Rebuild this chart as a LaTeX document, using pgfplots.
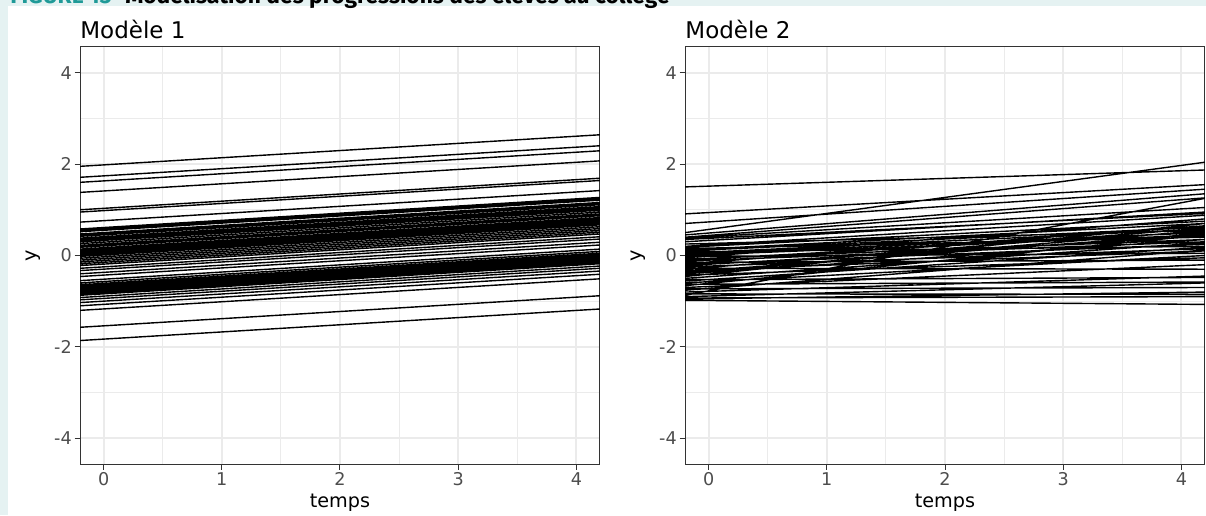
\documentclass[border=0pt]{standalone}
\usepackage{fontspec}
\setmainfont{DejaVu Sans}
\newfontfamily\capfont{Fira Sans}
\usepackage{pgfplots}
\usepackage{pgfplotstable}
\pgfplotsset{compat=1.18}

\definecolor{bgcyan}{HTML}{E5F2F2}
\definecolor{capteal}{HTML}{1F9A98}
\definecolor{gridc}{HTML}{EBEBEB}
\definecolor{borderc}{HTML}{333333}
\definecolor{tickc}{HTML}{4D4D4D}

% Modele 1 : droites paralleles (valeurs aux bords x=-0.2 et x=4.2)
\pgfplotstableread{
x y
-0.2 1.95
4.2 2.64
nan nan
-0.2 1.71
4.2 2.40
nan nan
-0.2 1.60
4.2 2.29
nan nan
-0.2 1.38
4.2 2.07
nan nan
-0.2 1.00
4.2 1.69
nan nan
-0.2 0.95
4.2 1.64
nan nan
-0.2 0.73
4.2 1.42
nan nan
-0.2 0.58
4.2 1.27
nan nan
-0.2 0.55
4.2 1.24
nan nan
-0.2 0.52
4.2 1.21
nan nan
-0.2 0.47
4.2 1.16
nan nan
-0.2 0.44
4.2 1.13
nan nan
-0.2 0.42
4.2 1.11
nan nan
-0.2 0.38
4.2 1.07
nan nan
-0.2 0.35
4.2 1.04
nan nan
-0.2 0.33
4.2 1.02
nan nan
-0.2 0.30
4.2 0.99
nan nan
-0.2 0.26
4.2 0.95
nan nan
-0.2 0.22
4.2 0.91
nan nan
-0.2 0.20
4.2 0.89
nan nan
-0.2 0.18
4.2 0.87
nan nan
-0.2 0.14
4.2 0.83
nan nan
-0.2 0.11
4.2 0.80
nan nan
-0.2 0.08
4.2 0.77
nan nan
-0.2 0.05
4.2 0.74
nan nan
-0.2 0.02
4.2 0.71
nan nan
-0.2 0.00
4.2 0.69
nan nan
-0.2 -0.02
4.2 0.67
nan nan
-0.2 -0.06
4.2 0.63
nan nan
-0.2 -0.10
4.2 0.59
nan nan
-0.2 -0.14
4.2 0.55
nan nan
-0.2 -0.18
4.2 0.51
nan nan
-0.2 -0.22
4.2 0.47
nan nan
-0.2 -0.28
4.2 0.41
nan nan
-0.2 -0.33
4.2 0.36
nan nan
-0.2 -0.40
4.2 0.29
nan nan
-0.2 -0.46
4.2 0.23
nan nan
-0.2 -0.55
4.2 0.14
nan nan
-0.2 -0.60
4.2 0.09
nan nan
-0.2 -0.64
4.2 0.05
nan nan
-0.2 -0.66
4.2 0.03
nan nan
-0.2 -0.68
4.2 0.01
nan nan
-0.2 -0.71
4.2 -0.02
nan nan
-0.2 -0.72
4.2 -0.03
nan nan
-0.2 -0.74
4.2 -0.05
nan nan
-0.2 -0.77
4.2 -0.08
nan nan
-0.2 -0.78
4.2 -0.09
nan nan
-0.2 -0.80
4.2 -0.11
nan nan
-0.2 -0.83
4.2 -0.14
nan nan
-0.2 -0.85
4.2 -0.16
nan nan
-0.2 -0.87
4.2 -0.18
nan nan
-0.2 -0.92
4.2 -0.23
nan nan
-0.2 -0.97
4.2 -0.28
nan nan
-0.2 -1.03
4.2 -0.34
nan nan
-0.2 -1.10
4.2 -0.41
nan nan
-0.2 -1.20
4.2 -0.51
nan nan
-0.2 -1.57
4.2 -0.88
nan nan
-0.2 -1.86
4.2 -1.17
}\modelone

% Modele 2 : pentes aleatoires
\pgfplotstableread{
x y
-0.2 1.50
4.2 1.87
nan nan
-0.2 0.91
4.2 1.55
nan nan
-0.2 0.70
4.2 1.45
nan nan
-0.2 0.50
4.2 2.04
nan nan
-0.2 0.45
4.2 1.35
nan nan
-0.2 0.40
4.2 1.26
nan nan
-0.2 0.38
4.2 1.05
nan nan
-0.2 0.35
4.2 0.92
nan nan
-0.2 0.30
4.2 0.95
nan nan
-0.2 0.25
4.2 0.55
nan nan
-0.2 0.20
4.2 0.88
nan nan
-0.2 0.18
4.2 0.75
nan nan
-0.2 0.15
4.2 0.40
nan nan
-0.2 0.12
4.2 0.70
nan nan
-0.2 0.10
4.2 0.62
nan nan
-0.2 0.08
4.2 0.20
nan nan
-0.2 0.05
4.2 0.58
nan nan
-0.2 0.03
4.2 0.50
nan nan
-0.2 0.00
4.2 0.45
nan nan
-0.2 -0.02
4.2 0.05
nan nan
-0.2 -0.05
4.2 0.80
nan nan
-0.2 -0.08
4.2 0.35
nan nan
-0.2 -0.10
4.2 0.52
nan nan
-0.2 -0.12
4.2 0.30
nan nan
-0.2 -0.15
4.2 -0.10
nan nan
-0.2 -0.18
4.2 0.65
nan nan
-0.2 -0.20
4.2 0.25
nan nan
-0.2 -0.22
4.2 0.42
nan nan
-0.2 -0.25
4.2 0.15
nan nan
-0.2 -0.28
4.2 -0.30
nan nan
-0.2 -0.30
4.2 0.60
nan nan
-0.2 -0.33
4.2 0.10
nan nan
-0.2 -0.36
4.2 0.48
nan nan
-0.2 -0.38
4.2 0.55
nan nan
-0.2 -0.40
4.2 0.35
nan nan
-0.2 -0.43
4.2 -0.05
nan nan
-0.2 -0.46
4.2 0.70
nan nan
-0.2 -0.50
4.2 0.28
nan nan
-0.2 -0.53
4.2 -0.48
nan nan
-0.2 -0.56
4.2 0.18
nan nan
-0.2 -0.60
4.2 0.00
nan nan
-0.2 -0.63
4.2 -0.58
nan nan
-0.2 -0.66
4.2 0.45
nan nan
-0.2 -0.70
4.2 -0.20
nan nan
-0.2 -0.73
4.2 -0.70
nan nan
-0.2 -0.76
4.2 0.12
nan nan
-0.2 -0.80
4.2 -0.45
nan nan
-0.2 -0.84
4.2 -0.85
nan nan
-0.2 -0.87
4.2 1.25
nan nan
-0.2 -0.90
4.2 -0.60
nan nan
-0.2 -0.93
4.2 -0.90
nan nan
-0.2 -0.95
4.2 -0.80
nan nan
-0.2 -0.98
4.2 -1.07
}\modeltwo

\pgfplotsset{
  panel/.style={
    scale only axis, width=260pt, height=208.5pt,
    xmin=-0.2, xmax=4.2, ymin=-4.56, ymax=4.56,
    xtick={0,1,2,3,4}, xticklabels={0,1,2,3,4},
    ytick={-4,-2,0,2,4}, yticklabels={-4,-2,0,2,4},
    minor xtick={0.5,1.5,2.5,3.5}, minor ytick={-3,-1,1,3},
    grid=both,
    major grid style={gridc, line width=1pt},
    minor grid style={gridc, line width=0.5pt},
    axis line style={borderc, line width=0.5pt},
    major tick style={borderc, line width=0.5pt},
    major tick length=2.75pt, minor tick length=0pt,
    tick align=outside, xtick pos=left, ytick pos=left,
    tick label style={font=\fontsize{8.8}{10}\selectfont, text=tickc},
    yticklabel style={inner sep=1.2pt},
    xticklabel style={inner sep=1.5pt},
    xlabel={temps}, ylabel={y},
    every axis x label/.style={at={(axis description cs:0.5,0)}, anchor=center, yshift=-19.5pt, font=\fontsize{9.6}{11}\selectfont},
    every axis y label/.style={at={(axis description cs:0,0.5)}, xshift=-23.5pt, anchor=center, rotate=90, font=\fontsize{9.6}{11}\selectfont},
    every axis title/.style={at={(axis description cs:0,1)}, anchor=base west, yshift=4pt, inner sep=0pt, font=\fontsize{11.5}{13}\selectfont},
    unbounded coords=jump,
  }
}

\begin{document}
\begin{tikzpicture}
\useasboundingbox (0,0) rectangle (603pt,257.5pt);
\fill[bgcyan] (0,254.5pt) rectangle (603pt,257.5pt);
\fill[bgcyan] (0,0) rectangle (4pt,257.5pt);
\node[anchor=base west, inner sep=0pt, font=\capfont\bfseries\fontsize{11.4}{13}\selectfont, text=capteal] at (5pt,255.6pt) {FIGURE 13};
\node[anchor=base west, inner sep=0pt, font=\capfont\bfseries\fontsize{11.4}{13}\selectfont] at (62.5pt,255.6pt) {Modélisation des progressions des élèves au collège};

\begin{axis}[panel, at={(40pt,25.5pt)}, anchor=south west, title={Modèle 1}]
\addplot[black, line width=0.7pt] table {\modelone};
\end{axis}

\begin{axis}[panel, at={(342.5pt,25.5pt)}, anchor=south west, title={Modèle 2}]
\addplot[black, line width=0.7pt] table {\modeltwo};
\end{axis}
\end{tikzpicture}
\end{document}
